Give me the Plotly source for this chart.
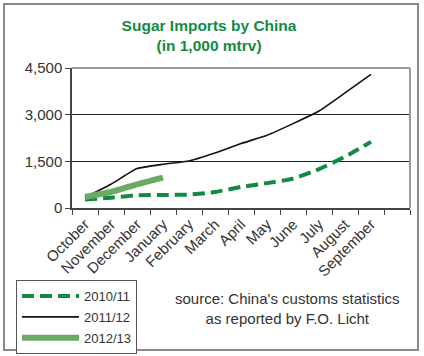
import plotly.graph_objects as go

months = ["October", "November", "December", "January", "February", "March",
          "April", "May", "June", "July", "August", "September"]
axis_categories = months + [" "]

imports_2010_11 = [270, 333, 408, 419, 430, 515, 676, 800, 944, 1250, 1650, 2125]
imports_2011_12 = [340, 762, 1266, 1405, 1511, 1768, 2070, 2337, 2712, 3118, 3700, 4297]
imports_2012_13 = [354, 515, 762, 977]

y_ticks = [0, 1500, 3000, 4500]
y_labels = ["0", "1,500", "3,000", "4,500"]

FONT = "Liberation Sans, Arial, sans-serif"
DARK_GREEN = "#138a43"
LIGHT_GREEN = "#6aaa64"

fig = go.Figure()
fig.add_trace(go.Scatter(
    x=months, y=imports_2010_11, name="2010/11", mode="lines",
    line=dict(color=DARK_GREEN, width=4, dash="12px,6px", shape="spline", smoothing=0.5),
    legendgroup="a"))
fig.add_trace(go.Scatter(
    x=months, y=imports_2011_12, name="2011/12", mode="lines",
    line=dict(color="#111111", width=1.6, shape="spline", smoothing=0.4),
    legendgroup="b"))
fig.add_trace(go.Scatter(
    x=months[:len(imports_2012_13)], y=imports_2012_13, name="2012/13", mode="lines",
    line=dict(color=LIGHT_GREEN, width=6, shape="spline", smoothing=0.4),
    legendgroup="c"))

fig.update_layout(
    width=424, height=356,
    margin=dict(l=72, r=14, t=68, b=148, autoexpand=False),
    paper_bgcolor="white", plot_bgcolor="white",
    font=dict(family=FONT, size=15, color="#333333"),
    title=dict(
        text="<b>Sugar Imports by China</b><br><b>(in 1,000 mtrv)</b>",
        font=dict(family=FONT, size=15.5, color=DARK_GREEN),
        x=0.493, xanchor="center", xref="container",
        y=1 - 31 / 356, yanchor="top", yref="container"),
    xaxis=dict(
        type="category", categoryorder="array", categoryarray=axis_categories,
        range=[-0.5, len(axis_categories) - 0.5], automargin=False,
        tickangle=-45, tickson="boundaries", ticks="outside", ticklen=5,
        tickcolor="#444", showline=True, linecolor="#444", linewidth=1.5,
        showgrid=False, tickfont=dict(size=15, color="#333")),
    yaxis=dict(
        range=[0, 4500], tickvals=y_ticks, ticktext=y_labels, automargin=False,
        ticks="outside", ticklen=5, tickcolor="#444",
        showline=True, linecolor="#444", linewidth=1.5,
        showgrid=True, gridcolor="#222", gridwidth=1, zeroline=False,
        tickfont=dict(size=15, color="#333")),
    legend=dict(
        x=(16 - 72) / 338, y=(208 - 280) / 140, xanchor="left", yanchor="top",
        bordercolor="#555", borderwidth=1, bgcolor="white",
        font=dict(size=13, color="#333"), itemwidth=57,
        tracegroupgap=1, traceorder="grouped"),
    showlegend=True,
)

# plot border (top/right) in grey
fig.add_shape(type="line", xref="paper", yref="paper", x0=0, x1=1, y0=1, y1=1,
              line=dict(color="#9a9a9a", width=2))
fig.add_shape(type="line", xref="paper", yref="paper", x0=1, x1=1, y0=0, y1=1,
              line=dict(color="#9a9a9a", width=2))
# outer frame
fig.add_shape(type="rect", xref="paper", yref="paper",
              x0=(4 - 72) / 338, x1=(418 - 72) / 338,
              y0=(208 - 350) / 140, y1=(208 - 4) / 140,
              line=dict(color="#8a8a8a", width=2), layer="below")

fig.add_annotation(
    text="source: China's customs statistics<br>as reported by F.O. Licht",
    xref="paper", yref="paper", x=(287 - 72) / 338, y=(208 - 308.5) / 140,
    xanchor="center", yanchor="middle", showarrow=False, align="center",
    font=dict(family=FONT, size=15, color="#333"))

fig.write_html("out.html", config={"displayModeBar": False},
               post_script="document.body.style.margin='0';")
